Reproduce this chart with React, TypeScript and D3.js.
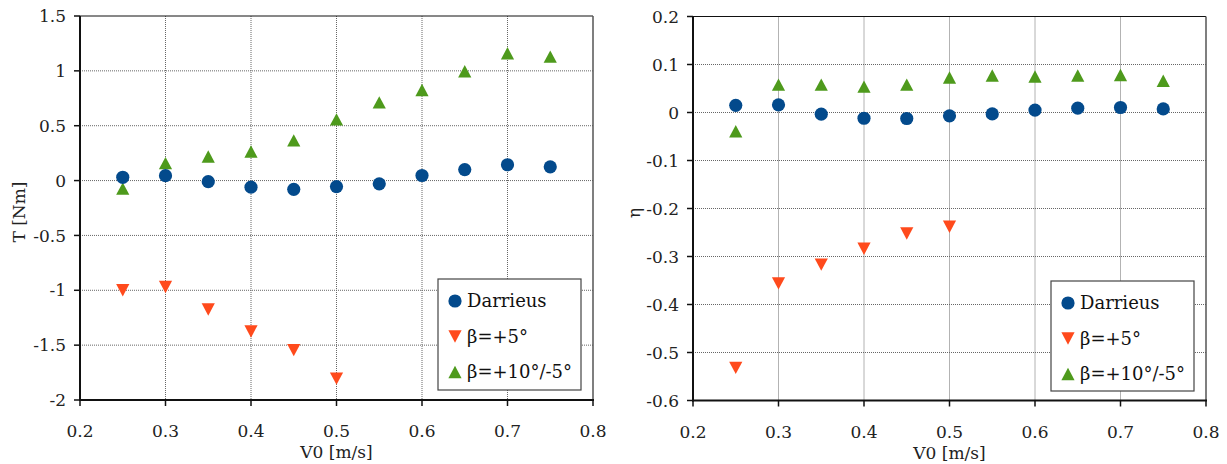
import React from "react";
import * as d3 from "d3";

const vSpeeds = [0.25, 0.3, 0.35, 0.4, 0.45, 0.5, 0.55, 0.6, 0.65, 0.7, 0.75];

// Left plot: torque T [Nm]
const torqueDarrieus = [0.03, 0.045, -0.01, -0.06, -0.08, -0.055, -0.03, 0.046, 0.1, 0.144, 0.125];
const torqueBeta5 = [-1.0, -0.97, -1.175, -1.375, -1.545, -1.805];
const torqueBeta10 = [-0.073, 0.159, 0.219, 0.265, 0.366, 0.558, 0.713, 0.826, 0.996, 1.16, 1.13];

// Right plot: efficiency η
const etaDarrieus = [0.015, 0.016, -0.0035, -0.012, -0.0125, -0.007, -0.003, 0.005, 0.009, 0.0104, 0.0075];
const etaBeta5 = [-0.532, -0.356, -0.317, -0.284, -0.252, -0.238];
const etaBeta10 = [-0.039, 0.058, 0.058, 0.054, 0.058, 0.073, 0.077, 0.075, 0.077, 0.078, 0.066];

const xTicks = [0.2, 0.3, 0.4, 0.5, 0.6, 0.7, 0.8];
const torqueTicks = [1.5, 1, 0.5, 0, -0.5, -1, -1.5, -2];
const etaTicks = [0.2, 0.1, 0, -0.1, -0.2, -0.3, -0.4, -0.5, -0.6];

const legendLabels = ["Darrieus", "β=+5°", "β=+10°/-5°"];

const BLUE = "#034a8c";
const ORANGE = "#ff4a1c";
const GREEN = "#4e9a1c";
const FONT = "'DejaVu Serif', serif";

function Circle({ x, y }: { x: number; y: number }) {
  return <circle cx={x} cy={y} r={6.6} fill={BLUE} />;
}
function TriDown({ x, y }: { x: number; y: number }) {
  const w = 6.6, h = 6.2;
  return <path d={`M${x - w},${y - h}L${x + w},${y - h}L${x},${y + h}Z`} fill={ORANGE} />;
}
function TriUp({ x, y }: { x: number; y: number }) {
  const w = 6.6, h = 6.2;
  return <path d={`M${x - w},${y + h}L${x + w},${y + h}L${x},${y - h}Z`} fill={GREEN} />;
}

type PanelProps = {
  left: number; right: number; top: number; bottom: number;
  yDomain: [number, number]; yTicks: number[];
  d1: number[]; d2: number[]; d3v: number[];
  yLabel: string; yLabelX: number; yLabelY: number;
  fmt: (v: number) => string;
  legend: { x: number; y: number; w: number; h: number };
};

function Panel(p: PanelProps) {
  const xs = d3.scaleLinear().domain([0.2, 0.8]).range([p.left, p.right]);
  const ys = d3.scaleLinear().domain(p.yDomain).range([p.bottom, p.top]);
  const cx = (p.left + p.right) / 2;
  const lg = p.legend;
  return (
    <g>
      {/* grid */}
      {xTicks.slice(1, -1).map((t) => (
        <line key={"gx" + t} x1={xs(t)} x2={xs(t)} y1={p.top} y2={p.bottom}
          stroke="#666" strokeWidth={1} strokeDasharray="1,1" />
      ))}
      {p.yTicks.filter((t) => t !== p.yDomain[0] && t !== p.yDomain[1]).map((t) => (
        <line key={"gy" + t} x1={p.left} x2={p.right} y1={ys(t)} y2={ys(t)}
          stroke="#666" strokeWidth={1} strokeDasharray="1,1" />
      ))}
      {/* frame */}
      <line x1={p.left} x2={p.right} y1={p.top} y2={p.top} stroke="#111" strokeWidth={1} />
      <line x1={p.right} x2={p.right} y1={p.top} y2={p.bottom} stroke="#555" strokeWidth={1.5} />
      <line x1={p.left} x2={p.left} y1={p.top} y2={p.bottom + 1} stroke="#111" strokeWidth={2} />
      <line x1={p.left - 1} x2={p.right + 1} y1={p.bottom} y2={p.bottom} stroke="#111" strokeWidth={2} />
      {/* x ticks */}
      {xTicks.map((t) => (
        <g key={"xt" + t}>
          <line x1={xs(t)} x2={xs(t)} y1={p.bottom} y2={p.bottom + 6} stroke="#111" strokeWidth={1.5} />
          <text x={xs(t)} y={p.bottom + 37} textAnchor="middle" fontFamily={FONT} fontSize={17} fill="#222">
            {t.toFixed(1)}
          </text>
        </g>
      ))}
      {/* y ticks */}
      {p.yTicks.map((t) => (
        <g key={"yt" + t}>
          <line x1={p.left - 6} x2={p.left} y1={ys(t)} y2={ys(t)} stroke="#111" strokeWidth={1.5} />
          <text x={p.left - 14} y={ys(t)} dy="0.36em" textAnchor="end" fontFamily={FONT} fontSize={17} fill="#222">
            {p.fmt(t)}
          </text>
        </g>
      ))}
      {/* axis titles */}
      <text x={cx} y={p.bottom + 58} textAnchor="middle" fontFamily={FONT} fontSize={17} fill="#222">
        V0 [m/s]
      </text>
      <text transform={`translate(${p.yLabelX},${p.yLabelY}) rotate(-90)`} textAnchor="middle" fontFamily={FONT}
        fontSize={17} fill="#222">
        {p.yLabel}
      </text>
      {/* data */}
      {p.d3v.map((v, i) => <TriUp key={"g" + i} x={xs(vSpeeds[i])} y={ys(v)} />)}
      {p.d1.map((v, i) => <Circle key={"b" + i} x={xs(vSpeeds[i])} y={ys(v)} />)}
      {p.d2.map((v, i) => <TriDown key={"o" + i} x={xs(vSpeeds[i])} y={ys(v)} />)}
      {/* legend */}
      <rect x={lg.x} y={lg.y} width={lg.w} height={lg.h} fill="#fff" stroke="#444" strokeWidth={1.2} />
      {legendLabels.map((lab, i) => {
        const yy = lg.y + 22 + i * 35.5;
        const mx = lg.x + 17;
        return (
          <g key={lab}>
            {i === 0 && <Circle x={mx} y={yy} />}
            {i === 1 && <TriDown x={mx} y={yy} />}
            {i === 2 && <TriUp x={mx} y={yy} />}
            <text x={lg.x + 29} y={yy} dy="0.36em" fontFamily={FONT} fontSize={18} fill="#111">
              {lab}
            </text>
          </g>
        );
      })}
    </g>
  );
}

export default function App() {
  return (
    <svg width={1227} height={464} style={{ position: "absolute", left: 0, top: 0, background: "#fff" }}>
      <Panel left={80} right={593} top={16} bottom={400}
        yDomain={[-2, 1.5]} yTicks={torqueTicks}
        d1={torqueDarrieus} d2={torqueBeta5} d3v={torqueBeta10}
        yLabel="T [Nm]" yLabelX={25} yLabelY={212} fmt={(v) => String(v)}
        legend={{ x: 438, y: 279, w: 143, h: 111 }} />
      <Panel left={693} right={1206} top={16.5} bottom={400.5}
        yDomain={[-0.6, 0.2]} yTicks={etaTicks}
        d1={etaDarrieus} d2={etaBeta5} d3v={etaBeta10}
        yLabel="η" yLabelX={640} yLabelY={213} fmt={(v) => String(v)}
        legend={{ x: 1051, y: 281, w: 143, h: 110 }} />
    </svg>
  );
}
